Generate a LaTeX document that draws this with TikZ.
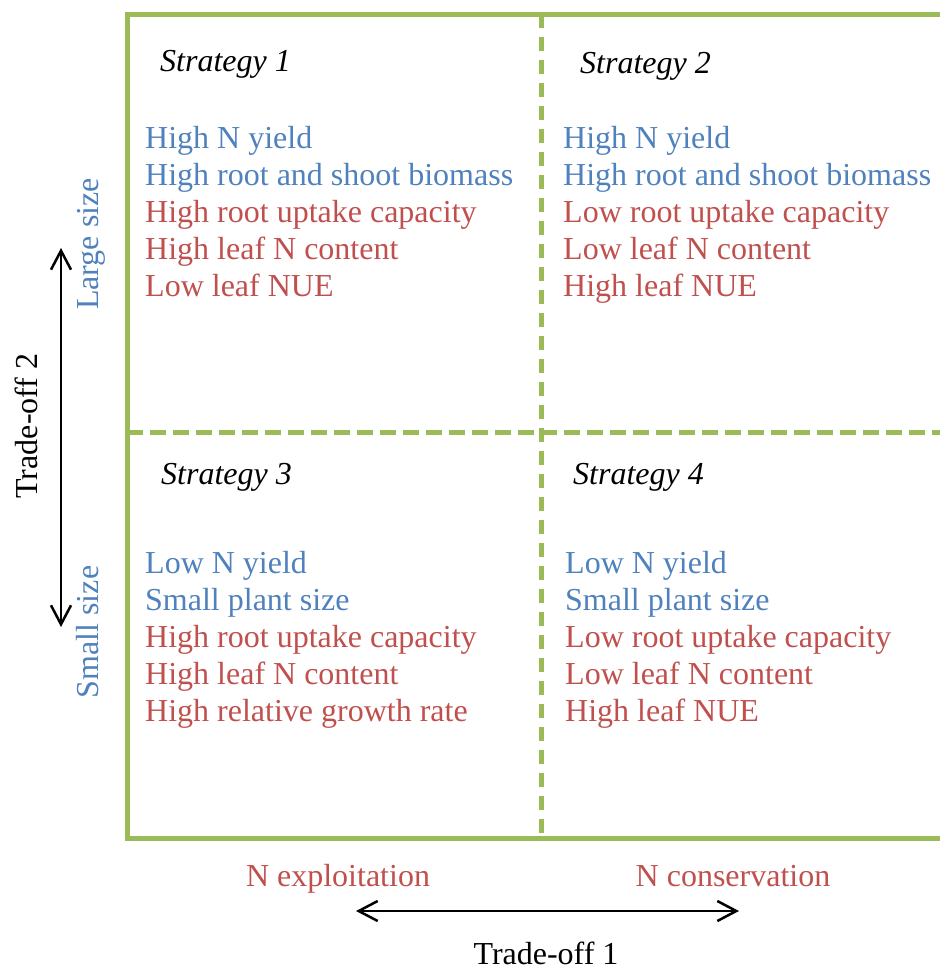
\documentclass[tikz,border=0pt]{standalone}
\usepackage{fontspec}
\setmainfont{Liberation Serif}
\usetikzlibrary{arrows.meta}
\definecolor{sizeblue}{HTML}{4F81BD}
\definecolor{nred}{HTML}{C0504D}
\definecolor{framegreen}{HTML}{9BBB59}
\tikzset{
  item/.style={anchor=base west, inner sep=0pt},
  strat/.style={anchor=base west, inner sep=0pt, font=\itshape},
  axislabel/.style={anchor=base, inner sep=0pt},
  tradeoff/.style={{Straight Barb[length=19pt,width=20pt]}-{Straight Barb[length=19pt,width=20pt]}, line width=2.5pt},
}

\begin{document}
\begin{tikzpicture}[x=1pt,y=-1pt]
  \useasboundingbox (0,0) rectangle (940,969);
  \fontsize{32}{37}\selectfont
  % frame and quadrant lines
  \draw[framegreen, line width=5pt] (940,14) -- (127,14) -- (127,838) -- (940,838);
  \draw[framegreen, line width=5pt, dash pattern=on 14pt off 9pt] (541,14) -- (541,838);
  \draw[framegreen, line width=5pt, dash pattern=on 16pt off 7pt] (127,432) -- (940,432);
  % strategies
  \node[strat] (s1) at (160,71) {Strategy 1};
  \node[strat] (s2) at (580,73) {Strategy 2};
  \node[strat] (s3) at (161,484) {Strategy 3};
  \node[strat] (s4) at (573,484) {Strategy 4};
  \foreach \txt/\col [count=\i from 0] in {High N yield/sizeblue,
      High root and shoot biomass/sizeblue, High root uptake capacity/nred,
      High leaf N content/nred, Low leaf NUE/nred}
    \node[item, text=\col] (one\i) at (145,{148+37*\i}) {\txt};
  \foreach \txt/\col [count=\i from 0] in {High N yield/sizeblue,
      High root and shoot biomass/sizeblue, Low root uptake capacity/nred,
      Low leaf N content/nred, High leaf NUE/nred}
    \node[item, text=\col] (two\i) at (563,{148+37*\i}) {\txt};
  \foreach \txt/\col [count=\i from 0] in {Low N yield/sizeblue,
      Small plant size/sizeblue, High root uptake capacity/nred,
      High leaf N content/nred, High relative growth rate/nred}
    \node[item, text=\col] (three\i) at (145,{573+37*\i}) {\txt};
  \foreach \txt/\col [count=\i from 0] in {Low N yield/sizeblue,
      Small plant size/sizeblue, Low root uptake capacity/nred,
      Low leaf N content/nred, High leaf NUE/nred}
    \node[item, text=\col] (four\i) at (565,{573+37*\i}) {\txt};
  % trade-off 2 (size)
  \node[axislabel, rotate=90, text=sizeblue] (large) at (98,244) {Large size};
  \node[axislabel, rotate=90, text=sizeblue] (small) at (98,632) {Small size};
  \node[axislabel, rotate=90] (t2) at (37,426) {Trade-off 2};
  \coordinate (t2top) at (61,248);
  \coordinate (t2bot) at (61,627);
  \draw[tradeoff] (t2bot) -- (t2top);
  % trade-off 1 (N use)
  \node[axislabel, text=nred] (exploit) at (338,886) {N exploitation};
  \node[axislabel, text=nred] (conserve) at (733,886) {N conservation};
  \node[axislabel] (t1) at (546,964) {Trade-off 1};
  \coordinate (t1left) at (356,911);
  \coordinate (t1right) at (739,911);
  \draw[tradeoff] (t1left) -- (t1right);
\end{tikzpicture}
\end{document}
